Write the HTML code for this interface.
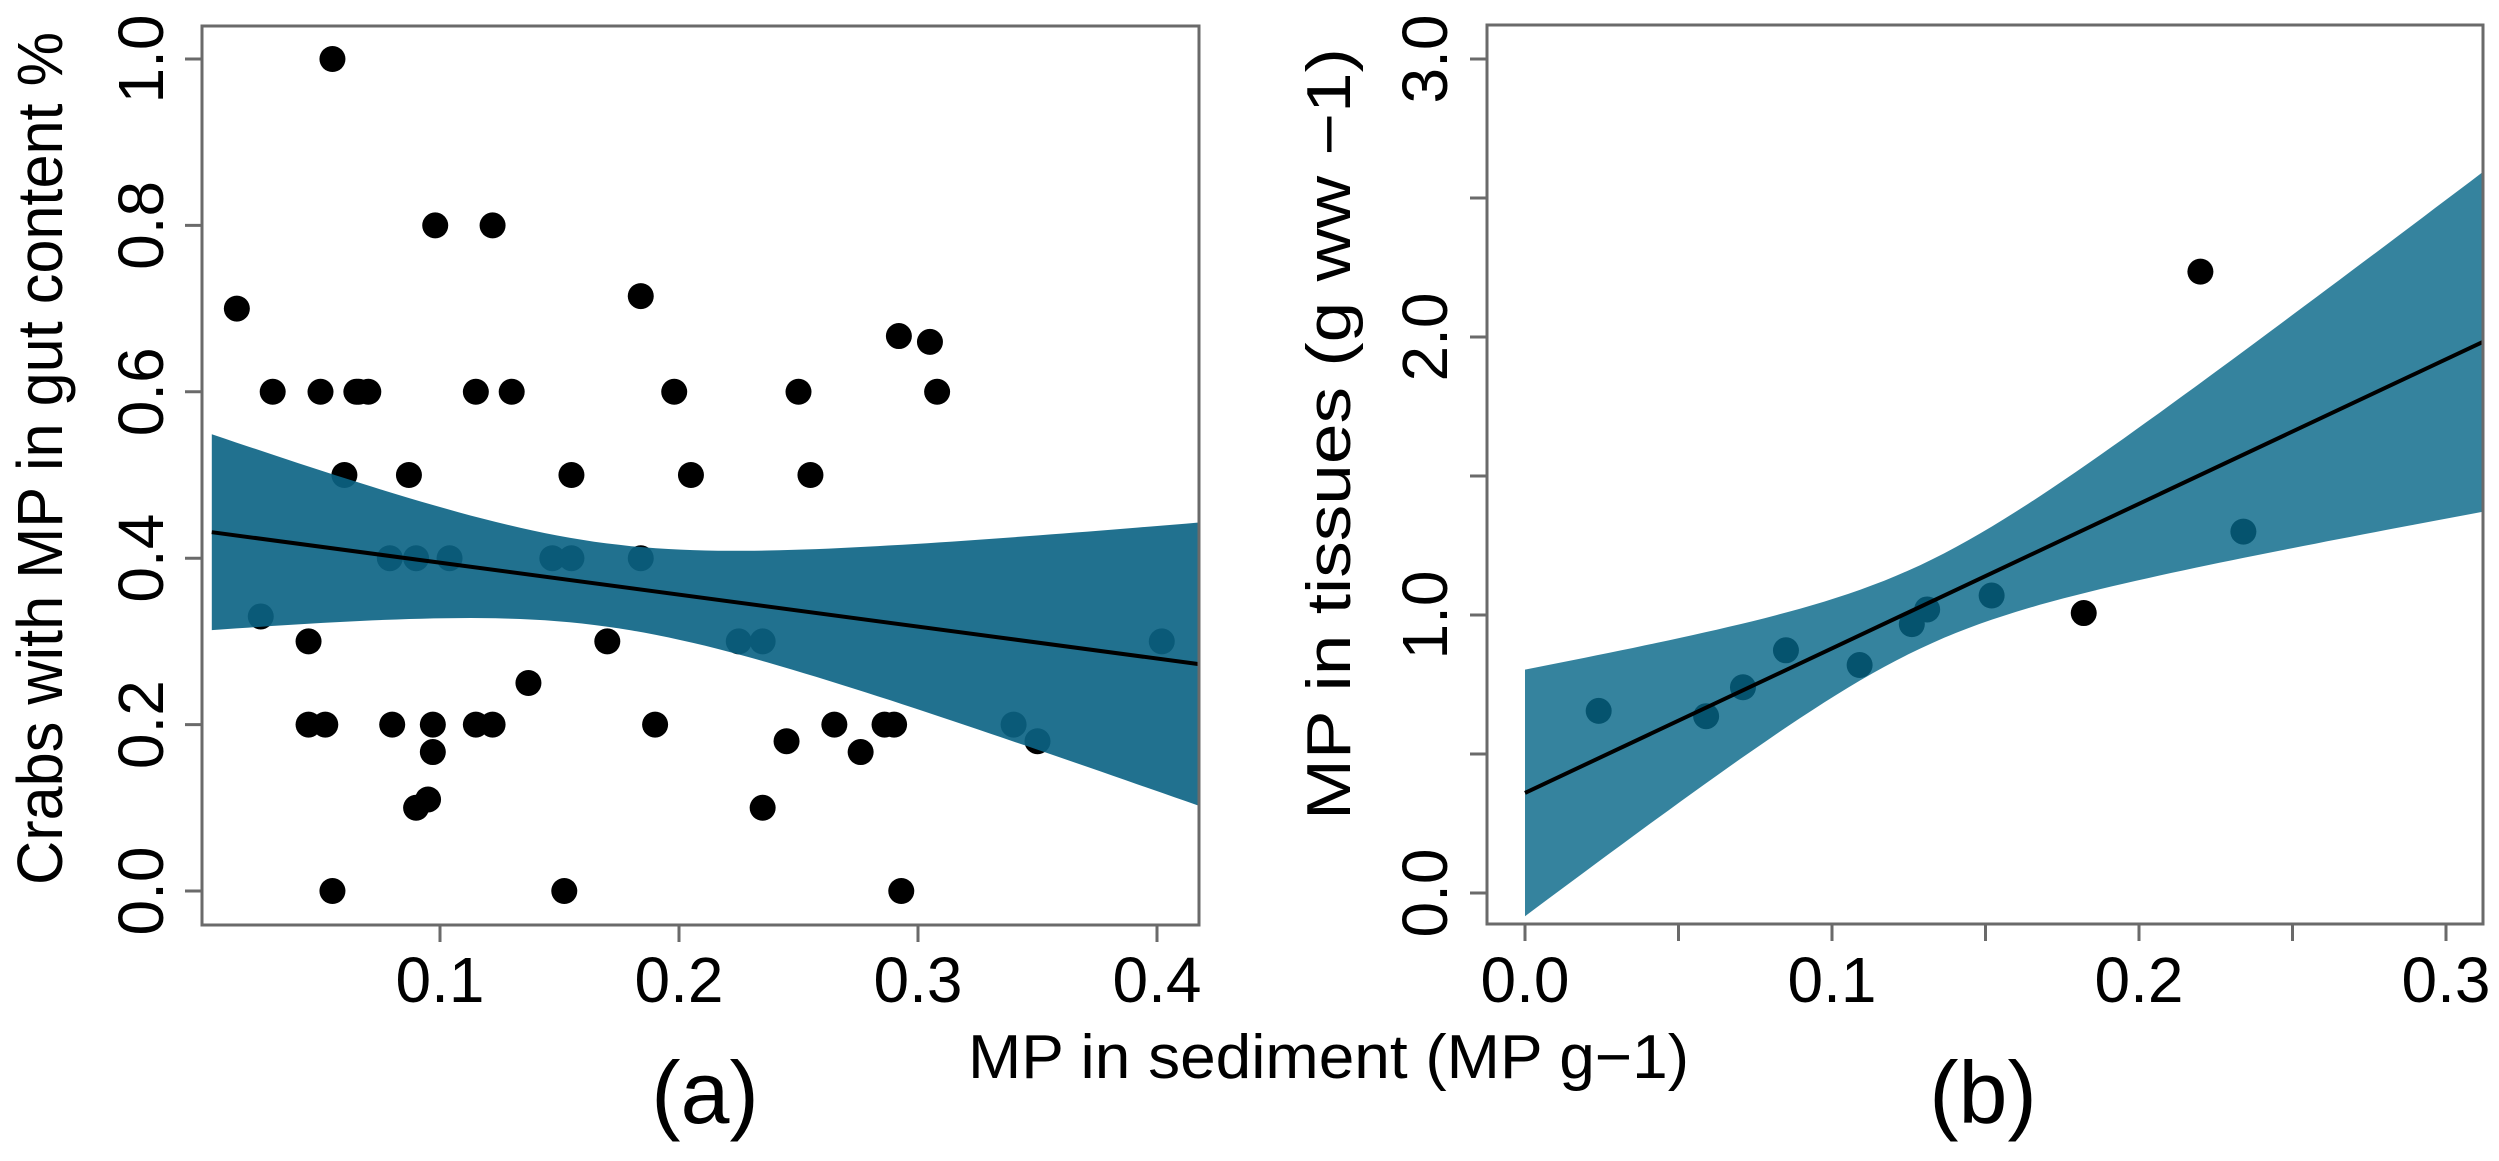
<!DOCTYPE html>
<html><head><meta charset="utf-8"><style>
html,body{margin:0;padding:0;background:#fff}
svg{display:block}
text{font-family:"Liberation Sans",Arial,sans-serif;fill:#000}
</style></head><body>
<svg id="chart" width="2499" height="1161" viewBox="0 0 2499 1161" xmlns="http://www.w3.org/2000/svg">
<g id="pa"></g>
<g id="pb"></g>
<text x="968" y="1078" font-size="62" textLength="721" lengthAdjust="spacingAndGlyphs">MP in sediment (MP g−1)</text>
<text x="705" y="1123" font-size="88" text-anchor="middle">(a)</text>
<text x="1983" y="1123" font-size="88" text-anchor="middle">(b)</text>
<text transform="translate(62,885) rotate(-90)" x="0" y="0" font-size="64" textLength="853" lengthAdjust="spacingAndGlyphs">Crabs with MP in gut content %</text>
<text transform="translate(1350,820) rotate(-90)" x="0" y="0" font-size="62" textLength="772" lengthAdjust="spacingAndGlyphs">MP in tissues (g ww −1)</text>
</svg>
<script>
// Panel A data
const aX = [0.015,0.03,0.05,0.065,0.07,0.055,0.06,0.087,0.098,0.122,0.115,0.13,0.184,0.198,0.205,0.155,0.25,0.255,0.292,0.305,0.308,
 0.045,0.045,0.052,0.055,0.08,0.09,0.095,0.097,0.097,0.115,0.122,0.137,0.152,0.17,0.19,0.235,0.245,0.265,0.276,0.286,0.29,0.293,
 0.025,0.079,0.09,0.104,0.147,0.155,0.184,0.225,0.235,0.34,0.35,0.402,0.066];
const aY = [0.70,0.60,0.60,0.60,0.60,1.0,0.5,0.5,0.8,0.8,0.6,0.6,0.715,0.6,0.5,0.5,0.6,0.5,0.667,0.66,0.6,
 0.3,0.2,0.2,0.0,0.2,0.1,0.11,0.2,0.167,0.2,0.2,0.25,0.0,0.3,0.2,0.1,0.18,0.2,0.167,0.2,0.2,0.0,
 0.33,0.4,0.4,0.4,0.4,0.4,0.4,0.3,0.3,0.2,0.18,0.3,0.6];
const aXTicks = [0.1,0.2,0.3,0.4];
const aXTickLabels = ["0.1","0.2","0.3","0.4"];
const aYTicks = [0,0.2,0.4,0.6,0.8,1.0];
const aYTickLabels = ["0.0","0.2","0.4","0.6","0.8","1.0"];
const aFit = [0.433,-0.384]; // intercept, slope
const aCI = [0.05,0.652,0.168]; // min half-width, spread, centre
// Panel B data
const bX = [0.024,0.059,0.071,0.085,0.109,0.126,0.131,0.152,0.182,0.22,0.234];
const bY = [0.655,0.636,0.74,0.873,0.82,0.967,1.02,1.07,1.007,2.235,1.30];
const bXTicks = [0,0.05,0.1,0.15,0.2,0.25,0.3];
const bXTickLabels = ["0.0","","0.1","","0.2","","0.3"];
const bYTicks = [0,0.5,1,1.5,2,2.5,3];
const bYTickLabels = ["0.0","","1.0","","2.0","","3.0"];
const bFit = [0.36,5.2];
const bCI = [0.15,3.237,0.129];

const NS="http://www.w3.org/2000/svg";
function mk(parent,tag,attrs){const e=document.createElementNS(NS,tag);for(const k in attrs)e.setAttribute(k,attrs[k]);parent.appendChild(e);return e;}

function panel(g,cfg){
  const sx=v=>cfg.x0+v*cfg.kx, sy=v=>cfg.y0-v*cfg.ky;
  // points
  for(let i=0;i<cfg.X.length;i++){
    const c=mk(g,'circle',{cx:sx(cfg.X[i]),cy:sy(cfg.Y[i]),r:13,fill:'#000'});
    
    
  }
  // band
  const xa=cfg.bandStart, xb=cfg.xmax, N=80; let up=[],lo=[];
  for(let i=0;i<=N;i++){const x=xa+(xb-xa)*i/N;const m=cfg.fit[0]+cfg.fit[1]*x;
    const w=Math.sqrt(cfg.ci[0]*cfg.ci[0]+Math.pow(cfg.ci[1]*(x-cfg.ci[2]),2));
    up.push(sx(x).toFixed(1)+','+sy(Math.min(m+w,cfg.ymax)).toFixed(1));
    lo.push(sx(x).toFixed(1)+','+sy(Math.max(m-w,cfg.ymin)).toFixed(1));}
  const band=mk(g,'polygon',{points:up.concat(lo.reverse()).join(' '),fill:cfg.bandColor,'fill-opacity':cfg.bandAlpha});
  
  
  const ln=mk(g,'line',{x1:sx(cfg.lineStart),y1:sy(cfg.fit[0]+cfg.fit[1]*cfg.lineStart),x2:sx(cfg.xmax),y2:sy(cfg.fit[0]+cfg.fit[1]*cfg.xmax),stroke:'#000','stroke-width':4});
  
  
  // box
  const box=mk(g,'rect',{x:cfg.L,y:cfg.T,width:cfg.R-cfg.L,height:cfg.B-cfg.T,fill:'none',stroke:'#6a6a6a','stroke-width':3});
  
  
  cfg.xt.forEach((v,i)=>{
    const t=mk(g,'line',{x1:sx(v),x2:sx(v),y1:cfg.B,y2:cfg.B+17,stroke:'#6a6a6a','stroke-width':3});
    
    
    if(cfg.xl[i]){const tx=mk(g,'text',{x:sx(v),y:1002,'font-size':64,'text-anchor':'middle'});tx.textContent=cfg.xl[i];
      
      }
  });
  cfg.yt.forEach((v,i)=>{
    const t=mk(g,'line',{x1:cfg.L-17,x2:cfg.L,y1:sy(v),y2:sy(v),stroke:'#6a6a6a','stroke-width':3});
    
    
    if(cfg.yl[i]){const tx=mk(g,'text',{transform:`translate(${cfg.ylx},${sy(v)}) rotate(-90)`,x:0,y:0,'font-size':64,'text-anchor':'middle'});tx.textContent=cfg.yl[i];
      
      }
  });
}
panel(document.getElementById('pa'),{X:aX,Y:aY,xt:aXTicks,xl:aXTickLabels,yt:aYTicks,yl:aYTickLabels,fit:aFit,ci:aCI,
  x0:201,kx:2390,y0:891,ky:832,L:202,R:1199,T:26,B:925,xmax:0.4175,bandStart:0.0045,lineStart:0.0045,ymin:-0.04,ymax:1.1,
  bandColor:'rgb(11,99,132)',bandAlpha:0.91,ylx:163});
panel(document.getElementById('pb'),{X:bX,Y:bY,xt:bXTicks,xl:bXTickLabels,yt:bYTicks,yl:bYTickLabels,fit:bFit,ci:bCI,
  x0:1525,kx:3070,y0:893,ky:278,L:1487,R:2483,T:25,B:924,xmax:0.312,bandStart:0,lineStart:0,ymin:-0.1,ymax:3.1,
  bandColor:'rgb(6,102,135)',bandAlpha:0.81,ylx:1447});
</script>
</body></html>
